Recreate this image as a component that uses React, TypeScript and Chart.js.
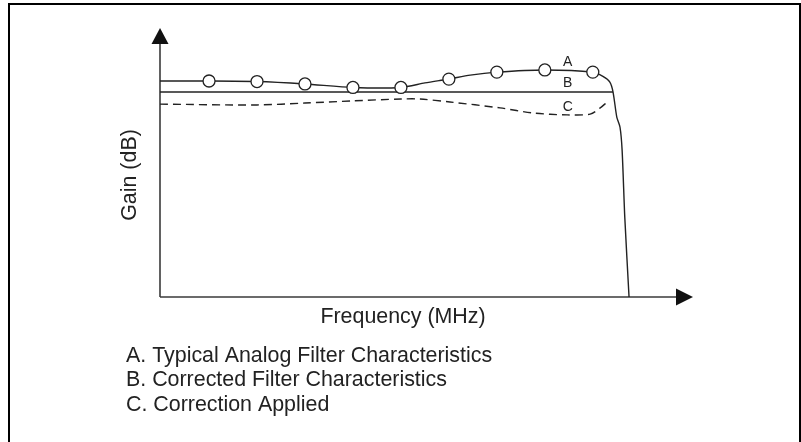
import React, { useEffect, useRef } from "react";
import { Chart, registerables } from "chart.js";

Chart.register(...registerables);

// Curve A: typical analog filter characteristic (frequency, gain) in relative units
const curveAX = [0, 9.2, 18.2, 27.2, 36.2, 45.2, 49.7, 52.5, 54.2, 58.2, 63.2, 72.2, 81.2, 83.1, 84.4, 85.0, 85.7, 86.3, 86.7, 87.2, 88.0];
const curveAY = [80.3, 80.3, 80.1, 79.2, 77.9, 77.9, 79.6, 80.5, 81.0, 82.5, 83.6, 84.4, 83.6, 82.0, 79.9, 76.2, 66.9, 63.2, 54.6, 29.7, 0];
// Circle markers on curve A
const markerX = [9.2, 18.2, 27.2, 36.2, 45.2, 54.2, 63.2, 72.2, 81.2];
const markerY = [80.3, 80.1, 79.2, 77.9, 77.9, 81.0, 83.6, 84.4, 83.6];
// Curve B: corrected filter characteristic
const curveBX = [0, 85.0];
const curveBY = [76.2, 76.2];
// Curve C: correction applied
const curveCX = [0, 18.2, 27.2, 36.2, 45.2, 48.8, 54.4, 63.8, 70.0, 76.4, 80.7, 82.6, 83.9];
const curveCY = [71.7, 71.4, 72.1, 72.9, 73.6, 73.6, 72.5, 70.3, 68.4, 67.7, 68.0, 70.3, 72.5];

const curveLabels = ["A", "B", "C"];
const curveLabelX = [76.5, 76.5, 76.5];
const curveLabelY = [87.4, 79.6, 70.6];

const xTitle = "Frequency (MHz)";
const yTitle = "Gain (dB)";
const legendLines = [
  "A. Typical Analog Filter Characteristics",
  "B. Corrected Filter Characteristics",
  "C. Correction Applied",
];

const FONT = '"Liberation Sans", Arial, Helvetica, sans-serif';
const INK = "#222222";
const AXIS = "#3a3a3a";

const zip = (xs: number[], ys: number[]) => xs.map((x, i) => ({ x, y: ys[i] }));

const decorPlugin = {
  id: "decor",
  beforeDatasetsDraw(chart: any) {
    const { ctx, chartArea } = chart;
    const { left, right, top, bottom } = chartArea;
    ctx.save();
    ctx.strokeStyle = AXIS;
    ctx.fillStyle = "#111";
    ctx.lineWidth = 1.6;
    ctx.beginPath();
    ctx.moveTo(left, bottom);
    ctx.lineTo(left, top + 14);
    ctx.stroke();
    ctx.beginPath();
    ctx.moveTo(left, bottom);
    ctx.lineTo(right - 14, bottom);
    ctx.stroke();
    ctx.beginPath();
    ctx.moveTo(left, top);
    ctx.lineTo(left - 8.5, top + 16);
    ctx.lineTo(left + 8.5, top + 16);
    ctx.closePath();
    ctx.fill();
    ctx.beginPath();
    ctx.moveTo(right, bottom);
    ctx.lineTo(right - 17, bottom - 8.5);
    ctx.lineTo(right - 17, bottom + 8.5);
    ctx.closePath();
    ctx.fill();
    ctx.restore();
  },
  afterDraw(chart: any) {
    const { ctx, scales } = chart;
    ctx.save();
    ctx.fillStyle = INK;
    ctx.font = `14px ${FONT}`;
    ctx.textAlign = "center";
    ctx.textBaseline = "middle";
    curveLabels.forEach((t, i) => {
      ctx.fillText(t, scales.x.getPixelForValue(curveLabelX[i]), scales.y.getPixelForValue(curveLabelY[i]));
    });
    ctx.font = `21.4px ${FONT}`;
    ctx.fillText(xTitle, 403, 317);
    ctx.save();
    ctx.translate(130, 175);
    ctx.rotate(-Math.PI / 2);
    ctx.fillText(yTitle, 0, 0);
    ctx.restore();
    ctx.textAlign = "left";
    legendLines.forEach((t, i) => {
      ctx.fillText(t, 126, 356 + i * 24.5);
    });
    ctx.restore();
  },
};

export default function App() {
  const ref = useRef<HTMLCanvasElement | null>(null);
  useEffect(() => {
    document.body.style.margin = "0";
    if (!ref.current) return;
    const chart = new Chart(ref.current, {
      type: "line",
      data: {
        datasets: [
          {
            data: zip(curveAX, curveAY),
            borderColor: INK,
            borderWidth: 1.4,
            pointRadius: 0,
            tension: 0.25,
            fill: false,
            order: 2,
          },
          {
            data: zip(markerX, markerY),
            showLine: false,
            pointRadius: 6,
            pointBackgroundColor: "#ffffff",
            pointBorderColor: INK,
            pointBorderWidth: 1.3,
            order: 0,
          },
          {
            data: zip(curveBX, curveBY),
            borderColor: INK,
            borderWidth: 1.4,
            pointRadius: 0,
            fill: false,
            order: 3,
          },
          {
            data: zip(curveCX, curveCY),
            borderColor: INK,
            borderWidth: 1.4,
            borderDash: [8, 5],
            pointRadius: 0,
            tension: 0.3,
            fill: false,
            order: 4,
          },
        ],
      } as any,
      options: {
        animation: false,
        responsive: true,
        maintainAspectRatio: false,
        layout: { padding: { left: 160, right: 108, top: 28, bottom: 145 } },
        scales: {
          x: { type: "linear", min: 0, max: 100, display: false },
          y: { type: "linear", min: 0, max: 100, display: false },
        },
        plugins: {
          legend: { display: false },
          tooltip: { enabled: false },
        },
      } as any,
      plugins: [decorPlugin],
    });
    return () => chart.destroy();
  }, []);

  return (
    <div style={{ position: "relative", width: 801, height: 442, overflow: "hidden", background: "#fff" }}>
      <div
        style={{
          position: "absolute",
          left: 8,
          top: 3,
          width: 793,
          height: 460,
          boxSizing: "border-box",
          border: "2px solid #000",
          borderBottom: "none",
        }}
      />
      <div style={{ position: "absolute", left: 0, top: 0, width: 801, height: 442 }}>
        <canvas ref={ref} />
      </div>
    </div>
  );
}
